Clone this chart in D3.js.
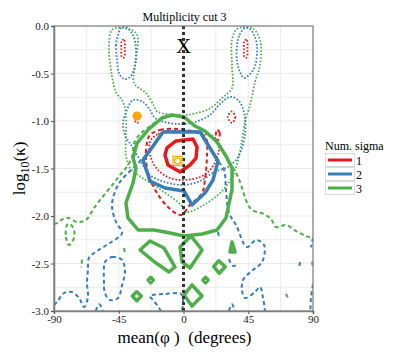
<!DOCTYPE html>
<html>
<head>
<meta charset="utf-8">
<script src="https://cdn.jsdelivr.net/npm/d3@7"></script>
<style>
  body { margin: 0; background: #fff; }
  text { font-family: "Liberation Serif", "DejaVu Serif", serif; }
</style>
</head>
<body>
<svg id="chart" width="415" height="356"></svg>
<script>
// sigma levels shown in the legend
const sigmaLevels = ["1", "2", "3"];
const sigmaColors = ["#e41a1c", "#377eb8", "#4daf4a"];

const xTicks = [-90, -45, 0, 45, 90];
const yTicks = [0, -0.5, -1.0, -1.5, -2.0, -2.5, -3.0];

// contour vertices: [mean(phi) deg, log10(kappa)]
// solid set
const solid1 = [[-11.5,-1.284],[-5.2,-1.21],[6.6,-1.19],[9.4,-1.274],[8.7,-1.39],[4.5,-1.463],[-2.4,-1.537],[-10.8,-1.463],[-12.9,-1.358]];
const solid2 = [[-14.2,-1.116],[11.5,-1.116],[24,-1.421],[20.5,-1.621],[14.9,-1.758],[5.9,-1.884],[0.4,-1.737],[-12.9,-1.705],[-23.3,-1.632],[-28.1,-1.411]];
const solid3 = [[-24,-1.084],[-14.9,-0.968],[-8,-0.937],[0.35,-0.958],[8,-1.053],[14.9,-1.105],[23.3,-1.221],[29.5,-1.368],[33.7,-1.495],[33.7,-1.726],[29.5,-2.021],[23.3,-2.147],[12.9,-2.189],[0.35,-2.211],[-9.4,-2.179],[-20.5,-2.147],[-31.6,-2.147],[-38.6,-2.021],[-40,-1.863],[-35.1,-1.653],[-33,-1.495],[-35.1,-1.389],[-32.3,-1.232]];
const solid3Islands = [
  [[-30.2,-2.358],[-23.3,-2.263],[-13.5,-2.337],[-5.9,-2.537],[-10.1,-2.589],[-19.1,-2.495]],
  [[-2.4,-2.326],[5.2,-2.211],[12.9,-2.358],[4.5,-2.547],[-1,-2.484]],
  [[0.35,-2.832],[5.9,-2.726],[12.9,-2.842],[5.9,-2.947]],
  [[21,-2.534],[24.5,-2.471],[29,-2.534],[24.9,-2.603]],
  [[-35.6,-2.842],[-32.5,-2.797],[-29.3,-2.842],[-32.5,-2.892]],
  [[-24.6,-2.674],[-22.8,-2.645],[-21,-2.674],[-22.8,-2.703]],
  [[13.5,-2.674],[15.3,-2.645],[17.1,-2.674],[15.3,-2.703]],
  [[32.3,-2.379],[33.7,-2.274],[35.8,-2.379]]
];

// dashed set
const dashed1 = [[-23.3,-1.147],[-16.3,-1.095],[-3.8,-1.084],[8,-1.116],[15.6,-1.179],[16.3,-1.358],[14.9,-1.621],[12.9,-1.758],[4.5,-1.884],[-1.7,-1.989],[-10.8,-1.905],[-18.4,-1.758],[-24,-1.579],[-26.1,-1.389],[-25.4,-1.232]];
const dashed1Small = [[23.3,-1.09],[25,-1.12],[24.7,-1.19],[23,-1.2],[22.5,-1.14]];
const dashed2 = [[-90,-2.937],[-87.9,-2.905],[-83,-2.811],[-77.5,-2.8],[-72.6,-2.863],[-69.1,-2.958],[-66.4,-2.853],[-67.1,-2.705],[-66.4,-2.568],[-65.7,-2.442],[-60.1,-2.368],[-51.1,-2.284],[-42.7,-2.179],[-46.9,-2.063],[-49.7,-1.884],[-45.5,-1.674],[-36.5,-1.516],[-28.5,-1.4],[-21,-1.26],[-14.2,-1.12],[0,-1.116],[11.5,-1.12],[18,-1.27],[24,-1.42],[28.2,-1.516],[29.5,-1.726],[31.6,-1.968],[36.5,-2.095],[44.1,-2.326],[50.4,-2.253],[56,-2.305],[54.6,-2.484],[48.3,-2.568],[41.4,-2.674],[40.7,-2.789],[42.7,-2.863],[49.7,-2.8],[53.2,-2.747],[55.3,-2.863],[56.6,-3.0]];
const dashed2Loop = [[-54.6,-2.484],[-49.7,-2.432],[-42.7,-2.463],[-40.7,-2.589],[-42.7,-2.726],[-45.5,-2.863],[-51.1,-2.884],[-54.6,-2.811],[-55.3,-2.674],[-55.3,-2.547]];
const dashed2Arch = [[-15.6,-3.0],[-20.5,-2.895],[-23.3,-2.842],[-12.9,-2.821],[-1.7,-2.821],[-0.3,-2.884],[-1,-3.0]];
const dashed2Bits = [
  [[31.6,-2.453],[34.4,-2.526],[37.9,-2.505]],
  [[24,-2.168],[24.7,-2.232]],
  [[81,-2.484],[80.3,-2.547]],
  [[90,-2.23],[88.6,-2.33]],
  [[90,-2.72],[88.6,-2.86],[88.2,-3.0]],
  [[31.5,-3.0],[33.7,-2.93],[35.5,-3.0]],
  [[-61,-3.0],[-58.5,-2.93],[-56,-3.0]]
];
const dashed3 = [[-90,-2.084],[-87.9,-2.074],[-83.7,-2.032],[-79.6,-2.021],[-74,-2.063],[-67.8,-2.042],[-62.2,-1.916],[-55.25,-1.779],[-48.3,-1.653],[-44.1,-1.568],[-40,-1.495],[-35.8,-1.379],[-34.4,-1.232],[-30.2,-1.137],[-24,-1.063],[-14.9,-0.968],[-8,-0.937],[0.35,-0.958],[8,-1.053],[14.9,-1.105],[23.3,-1.221],[29.5,-1.368],[34.4,-1.495],[37.9,-1.589],[40.7,-1.705],[43.4,-1.832],[47.6,-1.937],[56,-1.979],[60.8,-2.032],[64.3,-2.116],[71.2,-2.095],[78.2,-2.158],[85.1,-2.211],[90,-2.232]];
const dashed3Loop = [[-81,-2.095],[-81.7,-2.221],[-79.6,-2.305],[-76.1,-2.232],[-76.1,-2.147],[-78.9,-2.084]];
const dashed3Bits = [
  [[-70.5,-2.46],[-71,-2.54]],
  [[-41.3,-2.337],[-40.8,-2.38]],
  [[71.2,-2.82],[72.6,-2.86]],
  [[89.3,-2.48],[90,-2.55]]
];

// dotted set
const dotted1 = [[-23.3,-1.221],[-17.7,-1.137],[-8,-1.105],[4.5,-1.105],[14.9,-1.137],[21.9,-1.179],[24.7,-1.284],[22.6,-1.411],[18.4,-1.516],[11.5,-1.589],[1,-1.621],[-9.4,-1.6],[-17.7,-1.516],[-22.6,-1.389]];
const dotted1Small = [
  [[-42.8,-0.15],[-41.2,-0.15],[-40.8,-0.24],[-41.2,-0.33],[-42.8,-0.33],[-43.2,-0.24]],
  [[42.4,-0.15],[44,-0.15],[44.4,-0.24],[44,-0.33],[42.4,-0.33],[42,-0.24]],
  [[33.4,-0.9],[36,-0.96],[33.7,-1.02],[30.8,-0.96]],
  [[-33.2,-0.975],[-31.4,-0.975],[-31.4,-1.015],[-33.2,-1.015]]
];
const dotted2 = [[-35.1,-0.779],[-39.3,-0.884],[-42,-1.021],[-40.7,-1.147],[-36.5,-1.253],[-30.2,-1.411],[-23.3,-1.568],[-12.9,-1.642],[-0.3,-1.674],[11.5,-1.632],[21.2,-1.537],[30.9,-1.484],[37.9,-1.379],[42.7,-1.147],[42,-0.905],[37.9,-0.779],[32.3,-0.747],[25.4,-0.821],[18.4,-0.937],[8,-1.011],[-2.4,-1.032],[-12.9,-1.011],[-19.8,-0.968],[-23.3,-0.884],[-28.1,-0.8]];
const dotted2Left = [[-45.5,-0.095],[-46.9,-0.2],[-46.2,-0.358],[-44.8,-0.495],[-41.3,-0.558],[-37.2,-0.537],[-34.4,-0.453],[-33,-0.253],[-35.1,-0.095],[-40,-0.011],[-43.4,-0.021]];
const dotted2Right = [[42.7,-0.021],[38.6,-0.105],[37.2,-0.2],[37.2,-0.379],[39.3,-0.484],[42,-0.547],[46.2,-0.505],[49.7,-0.421],[51.1,-0.211],[49,-0.095],[46.2,-0.032]];
const dotted3 = [[-49,-0.032],[-51.8,-0.2],[-50.4,-0.463],[-46.9,-0.695],[-42,-0.8],[-40,-0.937],[-40,-1.147],[-40,-1.358],[-37.2,-1.495],[-29.5,-1.589],[-15.6,-1.726],[-1.7,-1.884],[1.7,-1.958],[12.9,-1.895],[26.8,-1.737],[34.4,-1.568],[37.9,-1.411],[40.7,-1.2],[42.7,-1.011],[46.2,-0.832],[49.7,-0.589],[53.2,-0.411],[53.2,-0.147],[47.6,-0.021],[37.2,-0.032],[33.7,-0.147],[33.7,-0.421],[33.7,-0.653],[26.8,-0.758],[17.7,-0.874],[8,-0.92],[0.35,-0.94],[-9.4,-0.93],[-18.4,-0.9],[-20.5,-0.842],[-26.1,-0.705],[-34.4,-0.6],[-33,-0.358],[-33,-0.074]];

// reference markers
const markerDot = [-32.3, -0.947];
const markerSquare = [-4.1, -1.42];
const markerX = [0, -0.285];

const svg = d3.select("#chart");
const x = d3.scaleLinear().domain([-90, 90]).range([54, 313]);
const y = d3.scaleLinear().domain([-3, 0]).range([311, 26]);

svg.append("defs").append("clipPath").attr("id", "panel")
  .append("rect").attr("x", 54).attr("y", 26).attr("width", 259).attr("height", 285);

// grid
const grid = svg.append("g");
grid.selectAll(".gx").data(d3.range(-90, 90.1, 22.5)).enter().append("line")
  .attr("x1", d => x(d)).attr("x2", d => x(d)).attr("y1", 26).attr("y2", 311)
  .attr("stroke", "#ebebeb").attr("stroke-width", 1);
grid.selectAll(".gy").data(d3.range(-3, 0.01, 0.25)).enter().append("line")
  .attr("y1", d => y(d)).attr("y2", d => y(d)).attr("x1", 54).attr("x2", 313)
  .attr("stroke", "#ebebeb").attr("stroke-width", 1);

const plot = svg.append("g").attr("clip-path", "url(#panel)");
const smooth = d3.line().x(d => x(d[0])).y(d => y(d[1])).curve(d3.curveCatmullRomClosed.alpha(0.5));
const smoothOpen = d3.line().x(d => x(d[0])).y(d => y(d[1])).curve(d3.curveCatmullRom.alpha(0.5));
const poly = d3.line().x(d => x(d[0])).y(d => y(d[1])).curve(d3.curveLinearClosed);

function draw(pts, gen, color, width, dash) {
  plot.append("path").attr("d", gen(pts))
    .attr("fill", "none").attr("stroke", color).attr("stroke-width", width)
    .attr("stroke-dasharray", dash).attr("stroke-linejoin", "round");
}

const dot = "1.6,1.8", dash = "4,3";
// dotted
draw(dotted3, smooth, sigmaColors[2], 1.8, dot);
draw(dotted2, smooth, sigmaColors[1], 1.8, dot);
draw(dotted2Left, smooth, sigmaColors[1], 1.8, dot);
draw(dotted2Right, smooth, sigmaColors[1], 1.8, dot);
draw(dotted1, smooth, sigmaColors[0], 1.8, dot);
dotted1Small.forEach(p => draw(p, smooth, sigmaColors[0], 1.8, dot));
// dashed
draw(dashed3, smoothOpen, sigmaColors[2], 2, dash);
draw(dashed3Loop, smooth, sigmaColors[2], 2, dash);
dashed3Bits.forEach(p => draw(p, smoothOpen, sigmaColors[2], 2, dash));
draw(dashed2, smoothOpen, sigmaColors[1], 2, dash);
draw(dashed2Loop, smooth, sigmaColors[1], 2, dash);
draw(dashed2Arch, smoothOpen, sigmaColors[1], 2, dash);
dashed2Bits.forEach(p => draw(p, smoothOpen, sigmaColors[1], 2, dash));
draw(dashed1, smooth, sigmaColors[0], 2, dash);
draw(dashed1Small, smooth, sigmaColors[0], 2, dash);
// solid
draw(solid3, poly, sigmaColors[2], 3.5, null);
solid3Islands.forEach(p => draw(p, poly, sigmaColors[2], 3.5, null));
draw(solid2, poly, sigmaColors[1], 3.5, null);
draw(solid1, poly, sigmaColors[0], 3.5, null);

// vertical reference line at 0
plot.append("line")
  .attr("x1", x(0)).attr("x2", x(0)).attr("y1", y(0)).attr("y2", y(-3))
  .attr("stroke", "#333").attr("stroke-width", 3).attr("stroke-dasharray", "3,3");

// markers
plot.append("circle").attr("cx", x(markerDot[0])).attr("cy", y(markerDot[1]))
  .attr("r", 4.5).attr("fill", "#ffa500");
plot.append("rect").attr("x", x(markerSquare[0]) - 4.5).attr("y", y(markerSquare[1]) - 4.5)
  .attr("width", 9).attr("height", 9).attr("fill", "none").attr("stroke", "#ffa500").attr("stroke-width", 1.3);
plot.append("circle").attr("cx", x(markerSquare[0])).attr("cy", y(markerSquare[1]))
  .attr("r", 3).attr("fill", "none").attr("stroke", "#ffa500").attr("stroke-width", 1.2);
svg.append("text").attr("x", x(markerX[0])).attr("y", y(markerX[1]))
  .attr("text-anchor", "middle").attr("font-size", 21).text("X");

// panel border
svg.append("rect").attr("x", 54).attr("y", 26).attr("width", 259).attr("height", 285)
  .attr("fill", "none").attr("stroke", "#7f7f7f").attr("stroke-width", 1.2);

// axes
const fmt = d => d.toFixed(1);
const yAxis = svg.append("g").attr("transform", "translate(54,0)")
  .call(d3.axisLeft(y).tickValues(yTicks).tickFormat(fmt).tickSize(3).tickPadding(2));
const xAxis = svg.append("g").attr("transform", "translate(0,311)")
  .call(d3.axisBottom(x).tickValues(xTicks).tickFormat(d => String(d)).tickSize(3).tickPadding(1));
[yAxis, xAxis].forEach(a => {
  a.attr("font-family", null);
  a.select(".domain").attr("stroke", "#7f7f7f").attr("stroke-width", 1.6);
  a.selectAll(".tick line").attr("stroke", "#555");
  a.selectAll("text").attr("font-size", 11).attr("fill", "#222");
});

// titles
svg.append("text").attr("x", 184.5).attr("y", 21).attr("text-anchor", "middle")
  .attr("font-size", 12).text("Multiplicity cut 3");
svg.append("text").attr("x", 184.5).attr("y", 343).attr("text-anchor", "middle")
  .attr("font-size", 17).attr("xml:space", "preserve").text("mean(φ )  (degrees)");
const yl = svg.append("text").attr("transform", "translate(25,168.5) rotate(-90)")
  .attr("text-anchor", "middle").attr("font-size", 17);
yl.append("tspan").text("log");
yl.append("tspan").attr("font-size", 12).attr("dy", 4).text("10");
yl.append("tspan").attr("dy", -4).text("(κ)");

// legend
const leg = svg.append("g").attr("transform", "translate(325,0)");
leg.append("text").attr("x", 0).attr("y", 150).attr("font-size", 12).text("Num. sigma");
sigmaLevels.forEach((s, i) => {
  const top = 153.5 + i * 14;
  leg.append("rect").attr("x", 0.5).attr("y", top).attr("width", 29).attr("height", 13)
    .attr("fill", "#fff").attr("stroke", "#d9d9d9").attr("stroke-width", 1);
  leg.append("line").attr("x1", 3).attr("x2", 27).attr("y1", top + 6.5).attr("y2", top + 6.5)
    .attr("stroke", sigmaColors[i]).attr("stroke-width", 3);
  leg.append("text").attr("x", 31).attr("y", top + 11).attr("font-size", 12).text(s);
});
</script>
</body>
</html>
